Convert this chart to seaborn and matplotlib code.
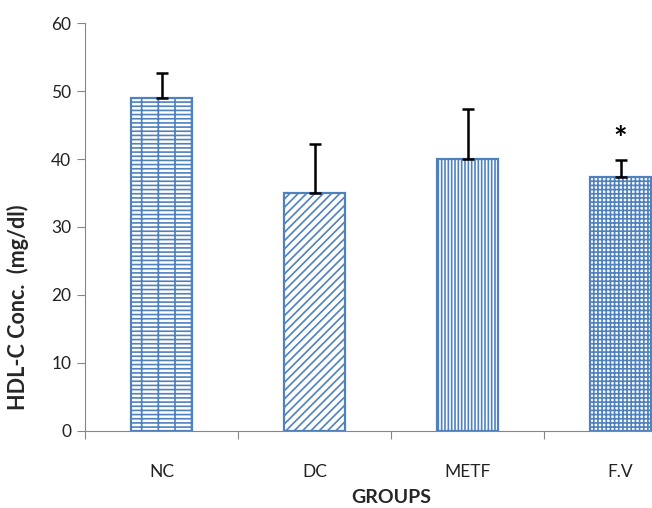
import matplotlib
matplotlib.use("Agg")
import matplotlib.pyplot as plt
import seaborn as sns
import pandas as pd
import numpy as np

groups = ["NC", "DC", "METF", "F.V"]
hdl_mean = [49.0, 35.0, 40.0, 37.3]
hdl_err = [3.7, 7.2, 7.3, 2.5]
significance = ["", "", "", "*"]
hatches = ["----|", "////", "|||||", "++++"]

sns.set_theme(style="white")
plt.rcParams["font.family"] = ["Lato", "DejaVu Sans"]
plt.rcParams["hatch.linewidth"] = 1.2
plt.rcParams["hatch.color"] = "#4F81BD"

df = pd.DataFrame({"group": groups, "hdl": hdl_mean})

fig = plt.figure(figsize=(6.52, 5.08), dpi=100)
# plot area runs past the right edge of the canvas
ax = fig.add_axes([0.1304, 0.1516, 0.9387, 0.8031])

sns.barplot(data=df, x="group", y="hdl", color="white", edgecolor="#4F81BD",
            linewidth=1.6, width=0.4, errorbar=None, ax=ax, saturation=1)
for patch, h in zip(ax.patches, hatches):
    patch.set_hatch(h)
    patch.set_facecolor("white")
    patch.set_edgecolor("#4F81BD")

x = np.arange(len(groups))
ax.errorbar(x, hdl_mean, yerr=[np.zeros(len(groups)), hdl_err], fmt="none",
            ecolor="black", elinewidth=1.8, capsize=4, capthick=1.8, zorder=5)
for xi, m, e, s in zip(x, hdl_mean, hdl_err, significance):
    if s:
        ax.text(xi, m + e + 0.8, s, ha="center", va="bottom",
                fontsize=23, fontweight="bold", color="black")

ax.set_xlim(-0.5, 3.5)
ax.set_ylim(0, 60)
ax.set_yticks(range(0, 61, 10))
ax.set_xticks(x)
ax.set_xticks(np.arange(-0.5, 3.6, 1.0), minor=True)
ax.tick_params(axis="x", which="major", length=0, pad=24, labelsize=12.5, labelcolor="#222222")
ax.tick_params(axis="x", which="minor", length=6, width=0.8, color="#868686", direction="out", bottom=True)
ax.tick_params(axis="y", length=6, width=0.8, color="#868686", direction="out", left=True,
               labelsize=12.5, labelcolor="#222222", pad=4)

for side in ["top", "right"]:
    ax.spines[side].set_visible(False)
for side in ["left", "bottom"]:
    ax.spines[side].set_color("#868686")
    ax.spines[side].set_linewidth(0.8)

ax.set_xlabel("GROUPS", fontsize=14, fontweight="bold", labelpad=6)
ax.set_ylabel("HDL-C Conc.  (mg/dl)", fontsize=15.5, fontweight="bold")
ax.yaxis.set_label_coords(-0.092, 0.304)

fig.savefig("out.png", dpi=100)
